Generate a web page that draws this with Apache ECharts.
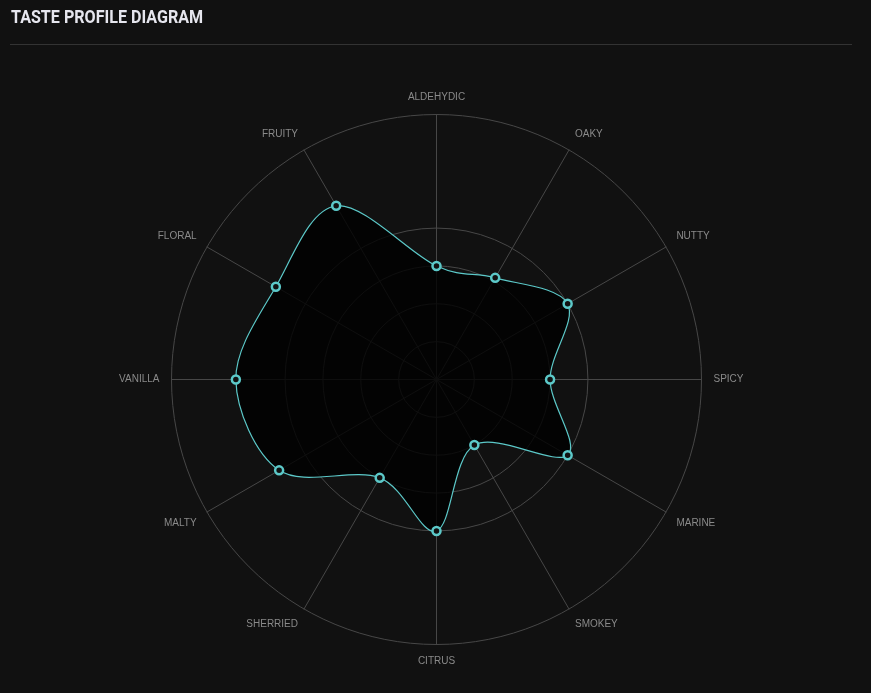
<!DOCTYPE html>
<html>
<head>
<meta charset="utf-8">
<style>
html,body{margin:0;padding:0;background:#111111;}
#chart{width:871px;height:693px;}
</style>
<script src="https://cdn.jsdelivr.net/npm/echarts@6/dist/echarts.min.js"></script>
</head>
<body>
<div id="chart"></div>
<script>
// Indicators listed clockwise from the top, as read on the chart
var categories = ['ALDEHYDIC','OAKY','NUTTY','SPICY','MARINE','SMOKEY','CITRUS','SHERRIED','MALTY','VANILLA','FLORAL','FRUITY'];
var values     = [3.0, 3.1, 4.0, 3.0, 4.0, 2.0, 4.0, 3.0, 4.8, 5.3, 4.9, 5.3];
var maxValue = 7;
var titleText = 'TASTE PROFILE DIAGRAM';

// ECharts radar places indicators counter-clockwise; reorder keeping the first at top
var order = [0].concat(categories.map(function(_, i){return i;}).slice(1).reverse());
var indicators = order.map(function(i){ return {name: categories[i], max: maxValue}; });
var radarValues = order.map(function(i){ return values[i]; });
// polar data items are [radius, angle]
var curveData = categories.map(function(_, i){ return [values[i], i]; });

var upperNames = ['OAKY','NUTTY','FLORAL','FRUITY'];
var lowerNames = ['MARINE','SMOKEY','SHERRIED','MALTY'];

var gridColor = '#474747';
var splitColors = [gridColor, gridColor, gridColor, gridColor, gridColor, 'rgba(0,0,0,0)', 'rgba(0,0,0,0)', gridColor];
var lineColor = '#5cc9c9';
var CENTER = [436.5, 379.5], RADIUS = 265;

function renderCurve(params, api) {
  if (params.dataIndexInside !== 0) return null;
  var n = params.dataInsideLength;
  var p = [];
  for (var i = 0; i < n; i++) p.push(api.coord([api.value(0, i), api.value(1, i)]));
  var d = 'M' + p[0][0] + ' ' + p[0][1];
  for (var k = 0; k < n; k++) {
    var p0 = p[(k - 1 + n) % n], p1 = p[k], p2 = p[(k + 1) % n], p3 = p[(k + 2) % n];
    var c1x = p1[0] + (p2[0] - p0[0]) / 6, c1y = p1[1] + (p2[1] - p0[1]) / 6;
    var c2x = p2[0] - (p3[0] - p1[0]) / 6, c2y = p2[1] - (p3[1] - p1[1]) / 6;
    d += ' C' + c1x + ' ' + c1y + ' ' + c2x + ' ' + c2y + ' ' + p2[0] + ' ' + p2[1];
  }
  d += ' Z';
  return {
    type: 'path',
    shape: {pathData: d},
    style: {fill: 'rgba(0,0,0,0.8)', stroke: lineColor, lineWidth: 1.2}
  };
}

var chart = echarts.init(document.getElementById('chart'), null, {renderer:'canvas'});
chart.setOption({
  backgroundColor: '#111111',
  animation: false,
  graphic: [{
    type: 'text',
    x: 11, y: 18.5,
    scaleX: 0.87,
    style: {text: titleText, fill: '#e6e6ee', font: 'bold 18.5px Roboto', textVerticalAlign: 'middle'}
  }, {
    type: 'line',
    shape: {x1: 10, y1: 44.5, x2: 852, y2: 44.5},
    style: {stroke: '#333333', lineWidth: 1}
  }],
  polar: {center: CENTER, radius: RADIUS},
  angleAxis: {
    type: 'category', data: categories, startAngle: 90, clockwise: true, boundaryGap: false,
    axisLine: {show: false}, axisTick: {show: false}, axisLabel: {show: false}, splitLine: {show: false}
  },
  radiusAxis: {
    min: 0, max: maxValue,
    axisLine: {show: false}, axisTick: {show: false}, axisLabel: {show: false}, splitLine: {show: false}
  },
  radar: {
    center: CENTER,
    radius: RADIUS,
    startAngle: 90,
    shape: 'circle',
    splitNumber: 7,
    indicator: indicators,
    nameGap: 12,
    axisName: {
      color: '#8a8a8a', fontSize: 10, fontFamily: 'Liberation Sans, Arial, sans-serif',
      formatter: function (name) {
        if (upperNames.indexOf(name) >= 0) return '{u|' + name + '}';
        if (lowerNames.indexOf(name) >= 0) return '{l|' + name + '}';
        return name;
      },
      rich: {
        u: {color: '#8a8a8a', fontSize: 10, fontFamily: 'Liberation Sans, Arial, sans-serif', padding: [0, 0, 10, 0]},
        l: {color: '#8a8a8a', fontSize: 10, fontFamily: 'Liberation Sans, Arial, sans-serif', padding: [10, 0, 0, 0]}
      }
    },
    axisLine: {lineStyle: {color: gridColor, width: 1}},
    splitLine: {lineStyle: {color: splitColors, width: 1}},
    splitArea: {show: false},
    axisTick: {show: false},
    axisLabel: {show: false}
  },
  series: [{
    type: 'custom',
    coordinateSystem: 'polar',
    z: 2,
    renderItem: renderCurve,
    data: curveData,
    silent: true
  }, {
    type: 'radar',
    z: 3,
    symbol: 'circle',
    symbolSize: 8,
    lineStyle: {opacity: 0},
    itemStyle: {color: '#111111', borderColor: lineColor, borderWidth: 2.5},
    data: [{value: radarValues, name: 'Profile'}]
  }]
});
</script>
</body>
</html>
